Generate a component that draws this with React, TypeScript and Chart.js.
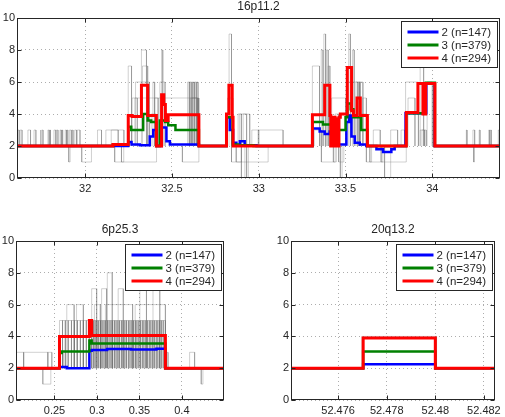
import React, { useEffect, useRef } from "react";
import { Chart, registerables } from "chart.js";

Chart.register(...registerables);

const FONT = "'Liberation Sans', Arial, Helvetica, sans-serif";
const TEXT = "#262626";

// ---------- shared ----------
const seriesLabels = ["2 (n=147)", "3 (n=379)", "4 (n=294)"];
const seriesColors = ["#0000ff", "#008000", "#ff0000"];
const yTicks = [0, 2, 4, 6, 8, 10];

// ---------- 16p11.2 ----------
const topTitle = "16p11.2";
const topRange = [31.607, 34.39];
const topXTicks = [32, 32.5, 33, 33.5, 34];
const topRedX = [31.607, 32.16, 32.248, 32.27, 32.324, 32.36, 32.41, 32.44, 32.453, 32.462, 32.478, 32.655, 32.814, 32.828, 32.847, 32.852, 33.309, 33.38, 33.41, 33.415, 33.43, 33.44, 33.45, 33.455, 33.462, 33.47, 33.51, 33.535, 33.545, 33.566, 33.585, 33.626, 33.85, 33.917, 33.946, 33.962, 34.015, 34.39];
const topRedY = [2, 2.1, 3.9, 3.85, 5.8, 3.9, 2.0, 5.2, 4.6, 3.6, 3.95, 2, 4.0, 5.8, 3.8, 2, 3.95, 5.8, 3.9, 2.0, 3.8, 2.0, 3.7, 2.0, 3.8, 4.0, 6.9, 4.2, 3.9, 5.0, 3.9, 2, 4.1, 5.9, 4.0, 5.9, 2, 2];
const topGreenX = [31.607, 32.16, 32.248, 32.265, 32.334, 32.36, 32.38, 32.41, 32.43, 32.46, 32.478, 32.52, 32.655, 32.814, 32.85, 32.88, 32.97, 33.309, 33.37, 33.42, 33.5, 33.51, 33.53, 33.545, 33.59, 33.626, 33.85, 33.962, 34.015, 34.39];
const topGreenY = [2, 2.1, 3.2, 3.0, 4.0, 3.6, 3.5, 2.0, 3.6, 3.5, 3.3, 3.0, 2, 3.8, 2.1, 2.05, 2, 3.5, 3.35, 3.0, 3.8, 4.65, 4.3, 3.8, 3.0, 2, 4.05, 5.95, 2, 2];
const topBlueX = [31.607, 32.248, 32.267, 32.315, 32.372, 32.392, 32.411, 32.44, 32.468, 32.488, 32.655, 32.814, 32.833, 32.852, 32.871, 32.891, 32.919, 32.987, 33.309, 33.351, 33.38, 33.409, 33.428, 33.447, 33.505, 33.52, 33.534, 33.553, 33.582, 33.62, 33.678, 33.716, 33.764, 33.783, 33.846, 33.965, 34.013, 34.39];
const topBlueY = [2, 2.25, 2.1, 2.05, 2.6, 3.0, 2.0, 3.15, 2.3, 2.1, 2, 3.8, 3.0, 2.2, 2.05, 2.3, 2.05, 2, 3.1, 2.9, 2.75, 2.9, 2.2, 2.1, 3.5, 3.9, 2.6, 2.2, 2.1, 2.0, 1.8, 1.62, 1.8, 2, 4.05, 5.9, 2, 2];
// individual samples: [start, end, copy number]
const topGrey: number[][] = [
  [31.613, 31.62, 3], [31.625, 31.636, 3], [31.67, 31.685, 3], [31.705, 31.716, 3], [31.74, 31.745, 3], [31.75, 31.757, 3],
  [31.785, 31.792, 3], [31.795, 31.8, 3], [31.82, 31.83, 3], [31.835, 31.843, 3], [31.855, 31.862, 3], [31.865, 31.87, 3],
  [31.885, 31.892, 3], [31.895, 31.9, 3], [31.91, 31.92, 3], [31.925, 31.93, 3], [31.94, 31.95, 3], [31.955, 31.97, 3],
  [31.905, 31.913, 1], [31.98, 32.036, 1],
  [32.071, 32.094, 3], [32.119, 32.223, 3], [32.15, 32.19, 3], [32.17, 32.222, 1], [32.209, 32.411, 1],
  [32.248, 32.267, 7], [32.286, 32.655, 5], [32.27, 32.3, 5], [32.29, 32.37, 6], [32.324, 32.353, 8], [32.33, 32.36, 7],
  [32.39, 32.4, 6], [32.4, 32.42, 5], [32.43, 32.46, 6], [32.44, 32.447, 8], [32.38, 32.41, 4],
  [32.56, 32.655, 1], [32.59, 32.6, 6], [32.6, 32.61, 6], [32.612, 32.62, 6], [32.622, 32.63, 6], [32.632, 32.64, 6],
  [32.642, 32.65, 6], [32.605, 32.65, 5], [32.615, 32.645, 5],
  [32.829, 32.843, 9], [32.82, 32.85, 5], [32.881, 32.948, 4], [32.89, 32.9, 4], [32.91, 32.93, 4], [32.843, 33.054, 1],
  [32.87, 32.9, 1], [32.9, 32.92, 0], [32.93, 32.94, 0], [32.996, 33.14, 3], [32.96, 33.0, 3],
  [33.309, 33.35, 7], [33.36, 33.37, 8], [33.375, 33.385, 9], [33.39, 33.4, 8], [33.4, 33.41, 7], [33.361, 33.447, 1],
  [33.32, 33.36, 3], [33.42, 33.5, 5], [33.44, 33.46, 4], [33.43, 33.44, 1], [33.46, 33.49, 1], [33.47, 33.48, 0],
  [33.518, 33.528, 9], [33.505, 33.58, 6], [33.54, 33.55, 8], [33.56, 33.57, 6], [33.575, 33.585, 6], [33.58, 33.6, 6],
  [33.6, 33.62, 5], [33.56, 33.62, 4],
  [33.62, 33.85, 1], [33.64, 33.65, 1], [33.66, 33.7, 3], [33.705, 33.715, 1], [33.76, 33.8, 3], [33.82, 33.84, 3], [33.725, 33.76, 0],
  [33.846, 33.92, 6], [33.86, 33.9, 5], [33.93, 33.95, 7], [33.93, 33.965, 3], [33.94, 33.955, 3], [33.97, 34.0, 6],
  [34.196, 34.2, 3], [34.234, 34.244, 3], [34.238, 34.243, 1], [34.27, 34.275, 3], [34.325, 34.33, 3], [34.335, 34.34, 3], [34.38, 34.386, 3],
];

// ---------- 6p25.3 ----------
const leftTitle = "6p25.3";
const leftRange = [0.2047, 0.4496];
const leftXTicks = [0.25, 0.3, 0.35, 0.4];
const leftRedX = [0.2047, 0.2559, 0.2911, 0.2938, 0.3806, 0.4496];
const leftRedY = [2, 4.0, 5.0, 4.05, 2, 2];
const leftGreenX = [0.2047, 0.2559, 0.2585, 0.2911, 0.2938, 0.3806, 0.4496];
const leftGreenY = [2, 2.95, 3.05, 3.75, 3.55, 2, 2];
const leftBlueX = [0.2047, 0.2559, 0.2645, 0.2911, 0.2938, 0.312, 0.34, 0.37, 0.3806, 0.4496];
const leftBlueY = [2, 2.08, 2.0, 3.1, 3.15, 3.2, 3.18, 3.22, 2, 2];
// edges of the samples that sit at copy number 5
const leftFiveEdges = [0.2559, 0.2595, 0.2628, 0.2662, 0.27, 0.2735, 0.277, 0.2805, 0.284, 0.2875, 0.291, 0.2938, 0.2958, 0.2979, 0.3001, 0.302, 0.3042, 0.3061, 0.3083, 0.3102, 0.3124, 0.3143, 0.3165, 0.3184, 0.3206, 0.3225, 0.3247, 0.3266, 0.3288, 0.3307, 0.3329, 0.3348, 0.337, 0.3389, 0.3411, 0.343, 0.3452, 0.3471, 0.3493, 0.3512, 0.3534, 0.3553, 0.3575, 0.3594, 0.3616, 0.3635, 0.3657, 0.3676, 0.3698, 0.3717, 0.3739, 0.3758, 0.378, 0.3806];
const leftGrey: number[][] = [
  [0.2047, 0.2137, 3], [0.2137, 0.2422, 3], [0.2363, 0.2457, 1], [0.2422, 0.2469, 3],
  [0.2645, 0.2731, 6], [0.276, 0.284, 6], [0.2938, 0.2997, 7], [0.297, 0.304, 6], [0.3055, 0.3114, 7], [0.3122, 0.318, 8],
  [0.31, 0.342, 6], [0.325, 0.331, 7], [0.345, 0.3806, 6], [0.3505, 0.3583, 7], [0.366, 0.374, 7],
  [0.3806, 0.3837, 3], [0.2559, 0.26, 3], [0.4091, 0.415, 3], [0.4228, 0.4248, 1],
];

// ---------- 20q13.2 ----------
const rightTitle = "20q13.2";
const rightRange = [52.47406, 52.48245];
const rightXTicks = [52.476, 52.478, 52.48, 52.482];
const rightX = [52.47406, 52.47703, 52.48, 52.48245];
const rightRedY = [2, 3.9, 2, 2];
const rightGreenY = [2, 3.05, 2, 2];
const rightBlueY = [2, 2.25, 2, 2];
const rightGrey: number[][] = [[52.47698, 52.48005, 4]];

type Spec = {
  title: string;
  range: number[];
  xTicks: number[];
  redX: number[]; redY: number[];
  greenX: number[]; greenY: number[];
  blueX: number[]; blueY: number[];
  grey: number[][];
  extraFive?: number[];
  left: number; top: number; width: number; height: number;
  padTop: number; padRight: number; yAxisWidth: number; xAxisHeight: number;
};

const specs: Spec[] = [
  {
    title: topTitle, range: topRange, xTicks: topXTicks,
    redX: topRedX, redY: topRedY, greenX: topGreenX, greenY: topGreenY, blueX: topBlueX, blueY: topBlueY,
    grey: topGrey,
    left: 0, top: 0, width: 505, height: 200, padTop: 18, padRight: 5, yAxisWidth: 17, xAxisHeight: 22,
  },
  {
    title: leftTitle, range: leftRange, xTicks: leftXTicks,
    redX: leftRedX, redY: leftRedY, greenX: leftGreenX, greenY: leftGreenY, blueX: leftBlueX, blueY: leftBlueY,
    grey: leftGrey, extraFive: leftFiveEdges,
    left: 0, top: 215, width: 250, height: 202, padTop: 26, padRight: 26, yAxisWidth: 16, xAxisHeight: 17,
  },
  {
    title: rightTitle, range: rightRange, xTicks: rightXTicks,
    redX: rightX, redY: rightRedY, greenX: rightX, greenY: rightGreenY, blueX: rightX, blueY: rightBlueY,
    grey: rightGrey,
    left: 255, top: 215, width: 250, height: 202, padTop: 26, padRight: 5, yAxisWidth: 36, xAxisHeight: 17,
  },
];

function framePlugin(spec: Spec) {
  return {
    id: "matlabFrame",
    afterDraw(chart: any) {
      const { ctx, chartArea: ca, scales } = chart;
      ctx.save();
      const l = Math.round(ca.left) + 0.5;
      const r = Math.round(ca.right) - 0.5;
      const t = Math.round(ca.top) + 0.5;
      const b = Math.round(ca.bottom) - 0.5;
      ctx.strokeStyle = TEXT;
      ctx.lineWidth = 1;
      ctx.setLineDash([]);
      ctx.strokeRect(l, t, r - l, b - t);
      ctx.beginPath();
      for (const tk of scales.x.ticks) {
        const px = Math.round(scales.x.getPixelForValue(tk.value)) + 0.5;
        ctx.moveTo(px, b); ctx.lineTo(px, b - 4);
        ctx.moveTo(px, t); ctx.lineTo(px, t + 4);
      }
      for (const tk of scales.y.ticks) {
        const py = Math.round(scales.y.getPixelForValue(tk.value)) + 0.5;
        ctx.moveTo(l, py); ctx.lineTo(l + 4, py);
        ctx.moveTo(r, py); ctx.lineTo(r - 4, py);
      }
      ctx.stroke();

      // title
      ctx.fillStyle = TEXT;
      ctx.font = `12px ${FONT}`;
      ctx.textAlign = "center";
      ctx.textBaseline = "middle";
      ctx.fillText(spec.title, (ca.left + ca.right) / 2, ca.top - 11.5);

      // legend
      ctx.font = `11.5px ${FONT}`;
      const tw = Math.max(...seriesLabels.map((s) => ctx.measureText(s).width));
      const w = Math.round(40 + tw + 6);
      const h = 46;
      const bx = Math.round(ca.right - 3 - w) + 0.5;
      const by = Math.round(ca.top + 3) + 0.5;
      ctx.fillStyle = "#ffffff";
      ctx.fillRect(bx, by, w, h);
      ctx.strokeStyle = TEXT;
      ctx.lineWidth = 1;
      ctx.strokeRect(bx, by, w, h);
      ctx.textAlign = "left";
      ctx.textBaseline = "middle";
      seriesLabels.forEach((lab, i) => {
        const y = Math.round(by + 10.5 + i * 12.8);
        ctx.strokeStyle = seriesColors[i];
        ctx.lineWidth = 3;
        ctx.beginPath();
        ctx.moveTo(bx + 6, y);
        ctx.lineTo(bx + 37, y);
        ctx.stroke();
        ctx.fillStyle = TEXT;
        ctx.fillText(lab, bx + 40, y + 0.5);
      });
      ctx.restore();
    },
  };
}

function Panel({ spec }: { spec: Spec }) {
  const ref = useRef<HTMLCanvasElement>(null);
  useEffect(() => {
    const canvas = ref.current;
    if (!canvas) return;
    const steps = (xs: number[], ys: number[]) => xs.map((x, i) => ({ x, y: ys[i] }));
    const colored = [
      { label: seriesLabels[2], data: steps(spec.redX, spec.redY), borderColor: seriesColors[2], borderWidth: 3 },
      { label: seriesLabels[1], data: steps(spec.greenX, spec.greenY), borderColor: seriesColors[1], borderWidth: 2.5 },
      { label: seriesLabels[0], data: steps(spec.blueX, spec.blueY), borderColor: seriesColors[0], borderWidth: 2.5 },
    ].map((d) => ({ ...d, stepped: "before" as const, pointRadius: 0, fill: false, borderJoinStyle: "miter" as const }));

    const segs: number[][] = [...spec.grey];
    if (spec.extraFive) {
      for (let i = 0; i < spec.extraFive.length - 1; i++) {
        segs.push([spec.extraFive[i], spec.extraFive[i + 1], 5]);
      }
    }
    const greys = segs.map(([s, e, v]) => ({
      label: "sample",
      data: [
        { x: s, y: 2 },
        { x: s, y: v },
        { x: e, y: v },
        { x: e, y: 2 },
      ],
      borderColor: "rgba(100,100,100,0.3)",
      borderWidth: 1,
      pointRadius: 0,
      fill: false,
      tension: 0,
    }));

    const axisCommon = {
      type: "linear" as const,
      grid: { color: "rgba(0,0,0,0.32)", lineWidth: 1, drawTicks: false },
      border: { display: false, dash: [1, 3] },
    };

    const chart = new Chart(canvas, {
      type: "line",
      data: { datasets: [...colored, ...greys] as any },
      options: {
        responsive: false,
        animation: false,
        devicePixelRatio: 1,
        events: [],
        layout: { padding: { top: spec.padTop, right: spec.padRight, left: 0, bottom: 0 } },
        plugins: {
          legend: { display: false },
          title: { display: false },
          tooltip: { enabled: false },
          colors: { enabled: false },
        } as any,
        scales: {
          x: {
            ...axisCommon,
            min: spec.range[0],
            max: spec.range[1],
            afterFit: (s: any) => { s.height = spec.xAxisHeight; },
            afterBuildTicks: (s: any) => { s.ticks = spec.xTicks.map((v) => ({ value: v })); },
            ticks: {
              autoSkip: false, maxRotation: 0, minRotation: 0, padding: 4, color: TEXT,
              font: { family: FONT, size: 11 },
              callback: (v: any) => String(v),
            },
          },
          y: {
            ...axisCommon,
            min: 0,
            max: 10,
            afterFit: (s: any) => { s.width = spec.yAxisWidth; },
            afterBuildTicks: (s: any) => { s.ticks = yTicks.map((v) => ({ value: v })); },
            ticks: {
              autoSkip: false, padding: 2, color: TEXT,
              font: { family: FONT, size: 11 },
              callback: (v: any) => String(v),
            },
          },
        } as any,
      },
      plugins: [framePlugin(spec)],
    });
    return () => chart.destroy();
  }, [spec]);
  return (
    <canvas
      ref={ref}
      width={spec.width}
      height={spec.height}
      style={{ position: "absolute", left: spec.left, top: spec.top, width: spec.width, height: spec.height }}
    />
  );
}

export default function App() {
  return (
    <div style={{ position: "fixed", left: 0, top: 0, width: 505, height: 417, background: "#ffffff", overflow: "hidden" }}>
      {specs.map((s) => (
        <Panel key={s.title} spec={s} />
      ))}
    </div>
  );
}
